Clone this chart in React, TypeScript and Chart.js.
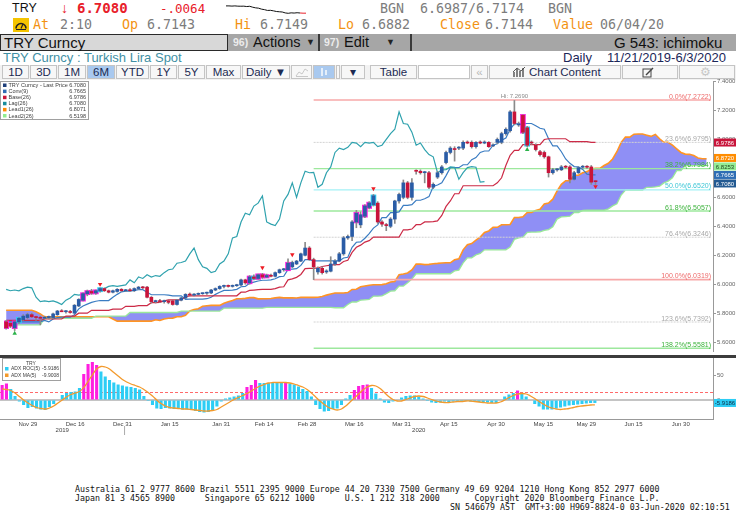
import React, { useEffect, useRef } from "react";
import { Chart, registerables } from "chart.js";

Chart.register(...registerables);

const MONO = '"DejaVu Sans Mono", "Liberation Mono", monospace';
const SANS = '"Liberation Sans", Arial, sans-serif';

// ================= DATA =================
const firstDay = "2019-11-21";
const dayCount = 166;
const dateTicks = ["Nov 29", "Dec 16", "Dec 31", "Jan 15", "Jan 31", "Feb 14", "Feb 28", "Mar 16", "Mar 31", "Apr 15", "Apr 30", "May 15", "May 29", "Jun 15", "Jun 30"];

const opens = [
  5.74, 5.73, 5.70, 5.74, 5.755, 5.77, 5.79, 5.775, 5.77, 5.765,
  5.77, 5.77, 5.79, 5.815, 5.81, 5.81, 5.80, 5.85, 5.89, 5.935,
  5.95, 5.94, 5.955, 5.97, 5.955, 5.945, 5.95, 5.965, 5.955, 5.96,
  5.955, 5.97, 5.98, 5.98, 5.91, 5.88, 5.885, 5.88, 5.885, 5.885,
  5.86, 5.89, 5.905, 5.93, 5.925, 5.93, 5.935, 5.938, 5.94, 5.96,
  5.97, 5.985, 5.99, 5.985, 5.99, 5.995, 6.03, 6.01, 6.05, 6.04,
  6.065, 6.05, 6.06, 6.055, 6.08, 6.10, 6.10, 6.12, 6.14, 6.16,
  6.20, 6.25, 6.17, 6.085, 6.11, 6.085, 6.09, 6.14, 6.16, 6.21,
  6.32, 6.33, 6.43, 6.41, 6.47, 6.53, 6.55, 6.56, 6.43, 6.41,
  6.40, 6.45, 6.575, 6.60, 6.70, 6.60, 6.785, 6.78, 6.77, 6.77,
  6.67, 6.74, 6.77, 6.84, 6.91, 6.935, 6.94, 6.94, 6.98, 6.98,
  6.95, 6.98, 6.975, 6.98, 6.955, 6.98, 6.98, 7.04, 7.06, 7.19,
  7.10, 7.166, 7.08, 6.98, 6.96, 6.915, 6.91, 6.88, 6.77, 6.79,
  6.79, 6.81, 6.81, 6.725, 6.77, 6.808, 6.812, 6.81, 6.7143,
];
const highs = [
  5.75, 5.735, 5.745, 5.77, 5.79, 5.80, 5.80, 5.78, 5.78, 5.78,
  5.78, 5.80, 5.82, 5.825, 5.82, 5.82, 5.86, 5.90, 5.94, 5.96,
  5.965, 5.96, 5.975, 5.975, 5.96, 5.96, 5.97, 5.97, 5.965, 5.97,
  5.975, 5.985, 5.985, 5.985, 5.915, 5.89, 5.895, 5.89, 5.89, 5.89,
  5.895, 5.91, 5.935, 5.94, 5.935, 5.94, 5.94, 5.945, 5.965, 5.975,
  5.99, 5.995, 5.995, 5.995, 6.00, 6.035, 6.035, 6.06, 6.065, 6.07,
  6.075, 6.07, 6.07, 6.085, 6.105, 6.11, 6.175, 6.16, 6.165, 6.215,
  6.29, 6.26, 6.18, 6.12, 6.12, 6.10, 6.19, 6.17, 6.22, 6.33,
  6.34, 6.44, 6.51, 6.50, 6.55, 6.57, 6.62, 6.57, 6.44, 6.42,
  6.46, 6.58, 6.63, 6.72, 6.71, 6.73, 6.79, 6.79, 6.78, 6.78,
  6.70, 6.78, 6.82, 6.92, 6.95, 6.95, 6.95, 6.99, 6.99, 6.99,
  6.985, 6.99, 6.99, 6.985, 6.97, 7.01, 7.05, 7.08, 7.20, 7.269,
  7.12, 7.17, 7.09, 6.99, 6.97, 6.925, 6.92, 6.885, 6.80, 6.80,
  6.82, 6.82, 6.82, 6.78, 6.81, 6.82, 6.82, 6.82, 6.7149,
];
const lows = [
  5.69, 5.70, 5.68, 5.73, 5.75, 5.76, 5.77, 5.75, 5.72, 5.76,
  5.76, 5.765, 5.785, 5.81, 5.80, 5.80, 5.80, 5.845, 5.885, 5.92,
  5.93, 5.93, 5.945, 5.95, 5.94, 5.94, 5.945, 5.95, 5.95, 5.95,
  5.95, 5.965, 5.97, 5.905, 5.87, 5.87, 5.875, 5.87, 5.865, 5.855,
  5.855, 5.885, 5.90, 5.92, 5.92, 5.925, 5.93, 5.93, 5.935, 5.955,
  5.965, 5.975, 5.98, 5.98, 5.985, 5.99, 6.00, 6.00, 6.03, 6.035,
  6.04, 6.045, 6.05, 6.05, 6.075, 6.09, 6.10, 6.115, 6.135, 6.155,
  6.195, 6.165, 6.032, 6.07, 6.07, 6.075, 6.085, 6.13, 6.155, 6.20,
  6.31, 6.30, 6.39, 6.39, 6.46, 6.52, 6.54, 6.42, 6.40, 6.37,
  6.39, 6.42, 6.56, 6.59, 6.59, 6.58, 6.76, 6.76, 6.70, 6.66,
  6.66, 6.73, 6.76, 6.83, 6.90, 6.85, 6.93, 6.93, 6.97, 6.94,
  6.94, 6.97, 6.97, 6.945, 6.95, 6.97, 6.97, 7.03, 7.05, 7.10,
  7.09, 7.04, 6.95, 6.965, 6.92, 6.885, 6.87, 6.74, 6.76, 6.78,
  6.785, 6.80, 6.70, 6.72, 6.765, 6.80, 6.80, 6.69, 6.6882,
];
const closes = [
  5.70, 5.71, 5.74, 5.765, 5.78, 5.79, 5.775, 5.77, 5.765, 5.77,
  5.775, 5.795, 5.815, 5.81, 5.812, 5.805, 5.855, 5.895, 5.935, 5.95,
  5.94, 5.955, 5.97, 5.955, 5.945, 5.955, 5.965, 5.955, 5.96, 5.955,
  5.97, 5.98, 5.975, 5.91, 5.88, 5.885, 5.88, 5.885, 5.875, 5.86,
  5.89, 5.905, 5.93, 5.925, 5.93, 5.935, 5.938, 5.94, 5.96, 5.97,
  5.985, 5.99, 5.985, 5.99, 5.995, 6.03, 6.01, 6.05, 6.04, 6.065,
  6.05, 6.06, 6.055, 6.08, 6.10, 6.105, 6.145, 6.15, 6.16, 6.21,
  6.25, 6.17, 6.12, 6.11, 6.08, 6.09, 6.14, 6.16, 6.21, 6.32,
  6.33, 6.43, 6.49, 6.48, 6.54, 6.56, 6.61, 6.43, 6.415, 6.405,
  6.45, 6.575, 6.62, 6.70, 6.60, 6.70, 6.78, 6.77, 6.772, 6.67,
  6.69, 6.77, 6.81, 6.91, 6.94, 6.93, 6.945, 6.98, 6.975, 6.95,
  6.98, 6.975, 6.98, 6.95, 6.96, 7.00, 7.04, 7.07, 7.19, 7.11,
  7.105, 7.05, 6.96, 6.975, 6.93, 6.895, 6.88, 6.77, 6.79, 6.792,
  6.81, 6.808, 6.725, 6.77, 6.805, 6.812, 6.808, 6.705, 6.708,
];
const magentaCandles = [0, 2, 18, 19, 20, 21, 57, 59, 60, 61, 66, 82, 84, 85, 121];
const cyanCandles = [3, 22, 58, 86, 122];

const conv9 = [
  5.74, 5.74, 5.74, 5.74, 5.74, 5.74, 5.74, 5.74, 5.74, 5.75,
  5.74, 5.76, 5.77, 5.7725, 5.7725, 5.7725, 5.79, 5.83, 5.85, 5.8625,
  5.875, 5.8825, 5.8875, 5.8875, 5.8875, 5.91, 5.93, 5.9475, 5.9525, 5.9525,
  5.9575, 5.9625, 5.9625, 5.945, 5.9275, 5.9275, 5.9275, 5.9275, 5.925, 5.92,
  5.92, 5.92, 5.895, 5.8975, 5.8975, 5.8975, 5.8975, 5.90, 5.91, 5.93,
  5.945, 5.9575, 5.9575, 5.96, 5.965, 5.9825, 5.985, 6.0075, 6.015, 6.0225,
  6.0275, 6.0275, 6.03, 6.0375, 6.0525, 6.055, 6.1025, 6.105, 6.1075, 6.13,
  6.17, 6.17, 6.161, 6.161, 6.161, 6.161, 6.161, 6.161, 6.161, 6.181,
  6.186, 6.255, 6.29, 6.2925, 6.3175, 6.35, 6.3875, 6.41, 6.46, 6.46,
  6.495, 6.495, 6.50, 6.545, 6.545, 6.55, 6.58, 6.58, 6.59, 6.605,
  6.675, 6.685, 6.70, 6.75, 6.805, 6.805, 6.805, 6.825, 6.825, 6.86,
  6.875, 6.91, 6.92, 6.92, 6.96, 6.97, 6.995, 7.01, 7.07, 7.107,
  7.107, 7.107, 7.11, 7.11, 7.0945, 7.077, 7.07, 7.0045, 6.955, 6.955,
  6.915, 6.865, 6.835, 6.8125, 6.81, 6.7925, 6.76, 6.755, 6.755,
];
const base26 = [
  5.75, 5.75, 5.75, 5.75, 5.75, 5.75, 5.75, 5.75, 5.75, 5.76,
  5.76, 5.76, 5.76, 5.76, 5.78, 5.78, 5.78, 5.80, 5.80, 5.80,
  5.82, 5.82, 5.82, 5.82, 5.82, 5.8275, 5.8275, 5.8275, 5.8475, 5.8475,
  5.8475, 5.8525, 5.8525, 5.8525, 5.8725, 5.8725, 5.875, 5.885, 5.8925, 5.8925,
  5.8925, 5.8925, 5.915, 5.92, 5.92, 5.92, 5.92, 5.92, 5.92, 5.92,
  5.92, 5.92, 5.92, 5.92, 5.92, 5.945, 5.945, 5.9575, 5.96, 5.9625,
  5.965, 5.965, 5.965, 5.97, 5.98, 5.9825, 6.03, 6.0375, 6.0475, 6.0675,
  6.1075, 6.11, 6.11, 6.1125, 6.1225, 6.1275, 6.1325, 6.135, 6.135, 6.1575,
  6.165, 6.22, 6.255, 6.27, 6.291, 6.301, 6.326, 6.326, 6.326, 6.326,
  6.326, 6.326, 6.326, 6.376, 6.376, 6.381, 6.411, 6.411, 6.43, 6.43,
  6.4325, 6.4375, 6.475, 6.5375, 6.575, 6.625, 6.625, 6.68, 6.68, 6.68,
  6.68, 6.68, 6.68, 6.68, 6.68, 6.70, 6.735, 6.82, 6.89, 6.9245,
  6.9245, 6.9645, 6.9645, 6.9645, 6.9645, 6.9645, 6.9995, 7.0045, 7.0045, 7.0045,
  7.0045, 7.0045, 6.9845, 6.9845, 6.9845, 6.9845, 6.9845, 6.9795, 6.9795,
];
const lead1 = [
  5.82, 5.82, 5.82, 5.82, 5.82, 5.82, 5.82, 5.81, 5.795, 5.775,
  5.775, 5.775, 5.775, 5.775, 5.775, 5.775, 5.775, 5.775, 5.775, 5.775,
  5.775, 5.775, 5.775, 5.775, 5.775, 5.76, 5.745, 5.745, 5.745, 5.745,
  5.745, 5.745, 5.745, 5.745, 5.745, 5.755, 5.75, 5.76, 5.765, 5.766,
  5.776, 5.776, 5.785, 5.815, 5.825, 5.831, 5.8475, 5.851, 5.854, 5.854,
  5.854, 5.869, 5.879, 5.8875, 5.90, 5.90, 5.9025, 5.9075, 5.9075, 5.899,
  5.90, 5.90, 5.901, 5.906, 5.909, 5.906, 5.906, 5.906, 5.905, 5.909,
  5.909, 5.909, 5.909, 5.91, 5.915, 5.925, 5.9325, 5.939, 5.939, 5.94,
  5.9425, 5.964, 5.965, 5.9825, 5.9875, 5.9925, 5.996, 5.996, 5.9975, 6.004,
  6.016, 6.019, 6.066, 6.071, 6.0775, 6.099, 6.139, 6.14, 6.1355, 6.137,
  6.142, 6.144, 6.147, 6.148, 6.148, 6.169, 6.1755, 6.2375, 6.2725, 6.281,
  6.304, 6.3255, 6.357, 6.368, 6.393, 6.393, 6.4105, 6.4105, 6.413, 6.4605,
  6.4605, 6.4655, 6.4955, 6.4955, 6.51, 6.5175, 6.554, 6.561, 6.5875, 6.644,
  6.69, 6.715, 6.715, 6.7525, 6.7525, 6.77, 6.7775, 6.795, 6.80, 6.80,
  6.82, 6.835, 6.865, 6.915, 6.98, 7.016, 7.016, 7.036, 7.037, 7.037,
  7.0295, 7.021, 7.035, 7.0045, 6.98, 6.98, 6.96, 6.935, 6.91, 6.8985,
  6.897, 6.8885, 6.872, 6.867, 6.867,
];
const lead2 = [
  5.72, 5.72, 5.72, 5.72, 5.72, 5.72, 5.72, 5.72, 5.72, 5.765,
  5.765, 5.765, 5.765, 5.765, 5.765, 5.765, 5.765, 5.765, 5.765, 5.765,
  5.765, 5.78, 5.78, 5.78, 5.78, 5.78, 5.78, 5.78, 5.78, 5.805,
  5.805, 5.805, 5.805, 5.805, 5.805, 5.805, 5.805, 5.805, 5.805, 5.805,
  5.805, 5.815, 5.815, 5.815, 5.815, 5.815, 5.815, 5.815, 5.815, 5.815,
  5.815, 5.835, 5.835, 5.835, 5.835, 5.835, 5.835, 5.835, 5.835, 5.835,
  5.835, 5.84, 5.84, 5.84, 5.84, 5.84, 5.84, 5.84, 5.84, 5.84,
  5.84, 5.84, 5.84, 5.84, 5.84, 5.84, 5.84, 5.8375, 5.8375, 5.8375,
  5.86, 5.8775, 5.8775, 5.89, 5.8925, 5.895, 5.9175, 5.9175, 5.92, 5.935,
  5.9525, 5.955, 5.9875, 5.9875, 6.01, 6.035, 6.0725, 6.0725, 6.0725, 6.0725,
  6.0725, 6.0725, 6.0725, 6.0725, 6.0725, 6.0925, 6.0975, 6.1475, 6.1825, 6.1825,
  6.2025, 6.2125, 6.2375, 6.2375, 6.2375, 6.2375, 6.2375, 6.2375, 6.2575, 6.31,
  6.32, 6.325, 6.3575, 6.36, 6.36, 6.3625, 6.3725, 6.3775, 6.3975, 6.45,
  6.465, 6.4675, 6.47, 6.495, 6.495, 6.51, 6.511, 6.511, 6.511, 6.511,
  6.511, 6.521, 6.541, 6.556, 6.616, 6.6505, 6.6505, 6.6505, 6.6505, 6.6505,
  6.6695, 6.6695, 6.672, 6.677, 6.6995, 6.712, 6.7345, 6.7845, 6.7845, 6.8195,
  6.8195, 6.8195, 6.8195, 6.8195, 6.8195,
];
const lagShift = 26;

const fibNames = ["0.0%", "23.6%", "38.2%", "50.0%", "61.8%", "76.4%", "100.0%", "123.6%", "138.2%"];
const fibLevels = [7.2722, 6.9795, 6.7984, 6.652, 6.5057, 6.3246, 6.0319, 5.7392, 5.5581];
const fibStart = 72;

const sellIdx = [22, 60, 67, 86, 138];
const sellPx = [6.0, 6.115, 6.205, 6.66, 6.675];
const buyIdx = [2, 122];
const buyPx = [5.661, 6.929];

const priceTicks = [5.6, 5.8, 6.0, 6.2, 6.4, 6.6, 6.8, 7.0, 7.2, 7.4];
const tagValues = [6.9786, 6.872, 6.8253, 6.7665, 6.708];
const legendNames = ["TRY Curncy - Last Price", "Conv(9)", "Base(26)", "Lag(26)", "Lead1(26)", "Lead2(26)"];
const legendValues = ["6.7080", "6.7665", "6.9786", "6.7080", "6.8071", "6.5198"];

const adxRoc = [
  30, 33, 22, 8, -3, -10, -16, -14, -17, -19,
  -20, -14, -8, 0, 10, 14, 16, 17, 24, 52,
  72, 76, 70, 57, 47, 40, 35, 31, 29, 27,
  26, 24, 21, 8, -2, -10, -17, -18, -16, -17,
  -18, -18, -19, -19, -20, -22, -24, -25, -24, -20,
  -13, -3, 3, 5, 7, 9, 14, 26, 30, 40,
  34, 34, 34, 34, 35, 35, 36, 33, 31, 27,
  22, 18, 7, -10, -18, -23, -22, -18, -17, -10,
  3, 10, 20, 28, 30, 31, 24, 13, 3, -5,
  -6, -3, 0, 5, 8, 9, 9, 7, 3, -2,
  -5, -6, -5, -3, -4, -3, -3, -2, -2, -3,
  -3, -4, -5, -5, -6, -6, 0, 7, 11, 14,
  19, 13, 7, 0, -8, -13, -19, -19, -19, -17,
  -15, -13, -11, -10, -9, -8, -7, -6, -5.9186,
];
const adxMa = [
  22, 21, 19, 14, 7, 0, -6, -11, -15, -17,
  -18, -16, -12, -6, 0, 6, 11, 14, 17, 25,
  37, 50, 62, 67, 66, 62, 55, 48, 41, 36,
  32, 29, 26, 21, 15, 8, 0, -7, -12, -15,
  -16, -17, -18, -18, -19, -20, -21, -22, -22, -21,
  -19, -14, -9, -4, 1, 5, 9, 13, 18, 23,
  28, 31, 34, 35, 35, 35, 35, 34, 32, 29,
  26, 21, 14, 6, -2, -9, -15, -18, -20, -18,
  -12, -4, 4, 12, 20, 26, 29, 28, 23, 15,
  7, 1, -2, -2, 1, 4, 7, 8, 7, 4,
  1, -2, -4, -5, -5, -4, -3, -3, -2, -2,
  -3, -4, -5, -6, -6, -6, -4, 0, 5, 9,
  12, 13, 12, 8, 3, -3, -8, -13, -16, -18,
  -19, -18, -17, -15, -13, -12, -11, -10, -9.9008,
];
const adxMagenta = [0, 1, 19, 20, 21, 22, 57, 58, 59, 66, 82, 83, 84, 85, 120];
const adxThreshold = 15;
const adxTicks = [0, 50];

const sparkline = [14, 14, 13.7, 14, 13.6, 13.5, 13.6, 13, 13.4, 12, 11, 10.5, 9, 8.2, 7, 7.2, 6.4, 5.4, 5, 4.6, 3.2, 2.6, 3.3, 3.0, 3.5, 3.1, 2.8, 2.8];

// ================= STYLE =================
const UP = "#2a5ca6";
const DOWN = "#c8143a";
const MAGENTA = "#ff1ee0";
const CYAN = "#2ccdf5";
const CLOUD = "rgba(128,128,244,0.88)";
const fibStyle = [
  { c: "#f7a8a8", t: "#ee6b6b", w: 1.6, d: [] as number[] },
  { c: "#d2d2d2", t: "#a8a8a8", w: 1, d: [2, 1] },
  { c: "#9de89d", t: "#3db33d", w: 1.3, d: [] as number[] },
  { c: "#a3f1f6", t: "#3cc6d6", w: 1.3, d: [] as number[] },
  { c: "#9de89d", t: "#3db33d", w: 1.3, d: [] as number[] },
  { c: "#d2d2d2", t: "#a8a8a8", w: 1, d: [2, 1] },
  { c: "#f7a8a8", t: "#ee6b6b", w: 1.6, d: [] as number[] },
  { c: "#d2d2d2", t: "#a8a8a8", w: 1, d: [2, 1] },
  { c: "#9de89d", t: "#3db33d", w: 1.3, d: [] as number[] },
];
const tagStyle = [
  { bg: "#c8143a", fg: "#ffffff" },
  { bg: "#ff8c00", fg: "#ffffff" },
  { bg: "#94ec94", fg: "#1f4a1f" },
  { bg: "#2e6db4", fg: "#ffffff" },
  { bg: "#235a92", fg: "#ffffff" },
];
const legendColors = ["#1f3f7a", "#2e6db4", "#c8143a", "#178c9c", "#ff8a00", "#90ee90"];

const MONTHS = ["Jan", "Feb", "Mar", "Apr", "May", "Jun", "Jul", "Aug", "Sep", "Oct", "Nov", "Dec"];
function buildDays() {
  const out: { label: string; year: number }[] = [];
  const d = new Date(firstDay + "T12:00:00Z");
  while (out.length < dayCount) {
    const wd = d.getUTCDay();
    if (wd !== 0 && wd !== 6) out.push({ label: `${MONTHS[d.getUTCMonth()]} ${d.getUTCDate()}`, year: d.getUTCFullYear() });
    d.setUTCDate(d.getUTCDate() + 1);
  }
  return out;
}

const fixRightAxis = (s: any) => {
  s.width = 23;
  s.paddingTop = 0;
  s.paddingBottom = 0;
};

// ================= MAIN CHART =================
function MainChart() {
  const ref = useRef<HTMLCanvasElement | null>(null);
  useEffect(() => {
    const days = buildDays();
    const labels = days.map((d) => d.label);
    const fit = (arr: number[]) => labels.map((_, i) => (i < arr.length ? arr[i] : null));
    const lag = labels.map((_, i) => (i + lagShift < closes.length ? closes[i + lagShift] : null));
    const isHl = (i: number) => magentaCandles.includes(i) || cyanCandles.includes(i);
    const hl = labels.map((_, i) => {
      if (i >= opens.length || !isHl(i)) return null;
      const lo = Math.min(opens[i], closes[i]);
      const hi = Math.max(opens[i], closes[i]);
      return [lo - 0.007, hi + 0.007];
    });
    const marks = (idx: number[], px: number[]) => {
      const a: (number | null)[] = labels.map(() => null);
      idx.forEach((ix, k) => (a[ix] = px[k]));
      return a;
    };
    const fibSets = fibLevels.map((v, k) => ({
      type: "line",
      data: labels.map((_, i) => (i >= fibStart ? v : null)),
      borderColor: fibStyle[k].c,
      borderWidth: fibStyle[k].w,
      borderDash: fibStyle[k].d,
      pointRadius: 0,
      order: 15,
    }));
    const lineBase = { type: "line", pointRadius: 0, tension: 0, spanGaps: false };

    const overlay = {
      id: "mainOverlay",
      afterDatasetsDraw(chart: any) {
        const { ctx, chartArea, scales } = chart;
        const ys = scales.y;
        const xs = scales.x;
        ctx.save();
        ctx.font = `7px ${SANS}`;
        ctx.textAlign = "right";
        ctx.textBaseline = "alphabetic";
        fibLevels.forEach((v, k) => {
          ctx.fillStyle = fibStyle[k].t;
          ctx.fillText(`${fibNames[k]}(${v.toFixed(4)})`, chartArea.right - 2, ys.getPixelForValue(v) - 1.5);
        });
        let hiI = 0;
        highs.forEach((h, i) => {
          if (h > highs[hiI]) hiI = i;
        });
        ctx.font = `6px ${SANS}`;
        ctx.textAlign = "center";
        ctx.fillStyle = "#8a8a8a";
        ctx.fillText(`Hi: ${highs[hiI].toFixed(4)}`, xs.getPixelForValue(hiI), ys.getPixelForValue(highs[hiI]) - 2);
        ctx.restore();
      },
      afterDraw(chart: any) {
        const { ctx, chartArea, scales } = chart;
        const ys = scales.y;
        ctx.save();
        ctx.font = `6px ${SANS}`;
        ctx.textAlign = "center";
        ctx.textBaseline = "middle";
        let prev = -100;
        tagValues.forEach((v, k) => {
          let y = ys.getPixelForValue(v);
          if (y - prev < 8.5) y = prev + 8.5;
          prev = y;
          ctx.fillStyle = tagStyle[k].bg;
          ctx.fillRect(chartArea.right + 1, y - 4, 22, 8);
          ctx.fillStyle = tagStyle[k].fg;
          ctx.fillText(v.toFixed(4), chartArea.right + 12, y + 0.5);
        });
        ctx.fillStyle = "#ffffff";
        ctx.fillRect(0.5, 4.5, 88, 38);
        ctx.strokeStyle = "#a0a0a0";
        ctx.lineWidth = 1;
        ctx.strokeRect(0.5, 4.5, 88, 38);
        ctx.font = `5.5px ${SANS}`;
        ctx.textBaseline = "middle";
        legendNames.forEach((nm, k) => {
          const y = 8.5 + k * 6.1;
          ctx.fillStyle = legendColors[k];
          ctx.fillRect(3, y - 2, 3.5, 3.5);
          ctx.fillStyle = "#404040";
          ctx.textAlign = "left";
          ctx.fillText(nm, 8.5, y);
          ctx.textAlign = "right";
          ctx.fillText(legendValues[k], 86, y);
        });
        ctx.restore();
      },
    };

    const chart = new Chart(ref.current as HTMLCanvasElement, {
      type: "bar",
      data: {
        labels,
        datasets: [
          { ...lineBase, data: fit(lead1), borderColor: "#ff9424", borderWidth: 1.6, fill: { target: 1, above: CLOUD, below: CLOUD }, order: 21 },
          { ...lineBase, data: fit(lead2), borderColor: "#9ae89a", borderWidth: 1.3, order: 20 },
          ...fibSets,
          { ...lineBase, data: lag, borderColor: "#2fa2ae", borderWidth: 1.2, order: 10 },
          { ...lineBase, data: fit(base26), borderColor: "#cc2a46", borderWidth: 1.2, order: 10 },
          { ...lineBase, data: fit(conv9), borderColor: "#3a7cc2", borderWidth: 1.2, order: 10 },
          {
            type: "bar",
            data: hl,
            backgroundColor: labels.map((_, i) => (cyanCandles.includes(i) ? CYAN : MAGENTA)),
            barThickness: 5,
            grouped: false,
            order: 6,
          },
          {
            type: "bar",
            data: highs.map((h, i) => [lows[i], h]),
            backgroundColor: "#8a8a8a",
            barThickness: 1,
            grouped: false,
            order: 5,
          },
          {
            type: "bar",
            data: opens.map((o, i) => [o, closes[i]]),
            backgroundColor: opens.map((o, i) => (closes[i] >= o ? UP : DOWN)),
            barThickness: 3,
            minBarLength: 1,
            grouped: false,
            order: 4,
          },
          { type: "line", data: marks(sellIdx, sellPx), showLine: false, pointStyle: "triangle", pointRotation: 180, pointRadius: 2.6, pointBackgroundColor: "#ee1c24", pointBorderColor: "#ee1c24", borderWidth: 0, order: 1 },
          { type: "line", data: marks(buyIdx, buyPx), showLine: false, pointStyle: "triangle", pointRadius: 2.6, pointBackgroundColor: "#2bb34a", pointBorderColor: "#2bb34a", borderWidth: 0, order: 1 },
        ] as any,
      },
      options: {
        responsive: false,
        animation: false,
        events: [],
        layout: { padding: { top: 3, left: 0, right: 0, bottom: 0 } },
        plugins: { legend: { display: false }, tooltip: { enabled: false } },
        scales: {
          x: { type: "category", display: false, offset: true, grid: { display: false } },
          y: {
            position: "right",
            min: 5.539,
            max: 7.4034,
            afterBuildTicks: (s: any) => {
              s.ticks = priceTicks.map((v) => ({ value: v }));
            },
            afterFit: fixRightAxis,
            ticks: { font: { size: 6, family: SANS }, color: "#666", padding: 1, callback: (v: any) => Number(v).toFixed(4) },
            grid: { display: true, drawOnChartArea: false, drawTicks: true, tickLength: 3, color: "#999" },
            border: { display: true, color: "#999" },
          },
        },
      } as any,
      plugins: [overlay],
    });
    return () => chart.destroy();
  }, []);
  return <canvas ref={ref} width={736} height={278} style={{ position: "absolute", left: 0, top: 77, width: 736, height: 278 }} />;
}

// ================= ADX PANEL =================
function AdxChart() {
  const ref = useRef<HTMLCanvasElement | null>(null);
  useEffect(() => {
    const days = buildDays();
    const labels = days.map((d) => d.label);
    const fit = (arr: number[]) => labels.map((_, i) => (i < arr.length ? arr[i] : null));
    const overlay = {
      id: "adxOverlay",
      beforeDatasetsDraw(chart: any) {
        const { ctx, chartArea, scales } = chart;
        const ys = scales.y;
        ctx.save();
        ctx.strokeStyle = "#c4c4c4";
        ctx.lineWidth = 2;
        ctx.beginPath();
        ctx.moveTo(chartArea.left, ys.getPixelForValue(0));
        ctx.lineTo(chartArea.right, ys.getPixelForValue(0));
        ctx.stroke();
        ctx.strokeStyle = "#ff6a6a";
        ctx.lineWidth = 1;
        ctx.setLineDash([3, 2]);
        ctx.beginPath();
        ctx.moveTo(chartArea.left, ys.getPixelForValue(adxThreshold));
        ctx.lineTo(chartArea.right, ys.getPixelForValue(adxThreshold));
        ctx.stroke();
        ctx.restore();
      },
      afterDraw(chart: any) {
        const { ctx, chartArea, scales } = chart;
        const ys = scales.y;
        const xs = scales.x;
        ctx.save();
        const last = adxRoc[adxRoc.length - 1];
        const y = ys.getPixelForValue(last);
        ctx.fillStyle = CYAN;
        ctx.fillRect(chartArea.right + 1, y - 4, 22, 8);
        ctx.fillStyle = "#0b2a40";
        ctx.font = `6px ${SANS}`;
        ctx.textAlign = "center";
        ctx.textBaseline = "middle";
        ctx.fillText(last.toFixed(4), chartArea.right + 12, y + 0.5);
        ctx.fillStyle = "#fff";
        ctx.fillRect(2.5, 0.5, 58, 22);
        ctx.strokeStyle = "#a0a0a0";
        ctx.strokeRect(2.5, 0.5, 58, 22);
        ctx.font = `5px ${SANS}`;
        ctx.fillStyle = "#404040";
        ctx.fillText("TRY", 31, 5.5);
        const rows = [
          { c: CYAN, n: "ADX ROC(5)", v: adxRoc[adxRoc.length - 1] },
          { c: "#f39a2c", n: "ADX MA(5)", v: adxMa[adxMa.length - 1] },
        ];
        rows.forEach((r, k) => {
          const yy = 11 + k * 6.5;
          ctx.fillStyle = r.c;
          ctx.fillRect(5, yy - 2, 3.5, 3.5);
          ctx.fillStyle = "#404040";
          ctx.textAlign = "left";
          ctx.fillText(r.n, 11, yy);
          ctx.textAlign = "right";
          ctx.fillText(r.v.toFixed(4), 59, yy);
        });
        ctx.font = `6px ${SANS}`;
        ctx.textAlign = "center";
        ctx.fillStyle = "#444";
        const years = Array.from(new Set(days.map((d) => d.year)));
        years.forEach((yr) => {
          const idx = days.map((d, i) => (d.year === yr ? i : -1)).filter((i) => i >= 0);
          const a = idx[0];
          const b = idx[idx.length - 1];
          const xm = (xs.getPixelForValue(a) + xs.getPixelForValue(b)) / 2;
          ctx.fillText(String(yr), xm, chartArea.bottom + 11.5);
          if (a > 0) {
            const xb = (xs.getPixelForValue(a - 1) + xs.getPixelForValue(a)) / 2;
            ctx.strokeStyle = "#aaa";
            ctx.lineWidth = 1;
            ctx.beginPath();
            ctx.moveTo(xb, chartArea.bottom + 7);
            ctx.lineTo(xb, chartArea.bottom + 16);
            ctx.stroke();
          }
        });
        ctx.restore();
      },
    };
    const chart = new Chart(ref.current as HTMLCanvasElement, {
      type: "bar",
      data: {
        labels,
        datasets: [
          {
            type: "line",
            data: fit(adxMa),
            borderColor: "#f39a2c",
            borderWidth: 1.3,
            pointRadius: 0,
            tension: 0.4,
            order: 1,
          },
          {
            type: "bar",
            data: fit(adxRoc),
            backgroundColor: labels.map((_, i) => (adxMagenta.includes(i) ? MAGENTA : CYAN)),
            barPercentage: 0.72,
            categoryPercentage: 1,
            order: 2,
          },
        ] as any,
      },
      options: {
        responsive: false,
        animation: false,
        events: [],
        layout: { padding: 0 },
        plugins: { legend: { display: false }, tooltip: { enabled: false } },
        scales: {
          x: {
            type: "category",
            offset: true,
            grid: { display: false, drawTicks: false, tickLength: 0 },
            border: { display: true, color: "#999" },
            afterFit: (s: any) => {
              s.height = 21;
              s.paddingLeft = 0;
              s.paddingRight = 0;
            },
            ticks: {
              autoSkip: false,
              maxRotation: 0,
              minRotation: 0,
              padding: 2,
              font: { size: 6, family: SANS },
              color: "#444",
              callback: (_v: any, i: number) => (dateTicks.includes(labels[i]) ? labels[i] : ""),
            },
          },
          y: {
            position: "right",
            min: -38,
            max: 84,
            afterBuildTicks: (s: any) => {
              s.ticks = adxTicks.map((v) => ({ value: v }));
            },
            afterFit: fixRightAxis,
            ticks: { font: { size: 6, family: SANS }, color: "#666", padding: 1 },
            grid: { display: true, drawOnChartArea: false, drawTicks: true, tickLength: 3, color: "#999" },
            border: { display: true, color: "#999" },
          },
        },
      } as any,
      plugins: [overlay],
    });
    return () => chart.destroy();
  }, []);
  return <canvas ref={ref} width={736} height={82} style={{ position: "absolute", left: 0, top: 358, width: 736, height: 82 }} />;
}

// ================= SPARKLINE =================
function Sparkline() {
  const ref = useRef<HTMLCanvasElement | null>(null);
  useEffect(() => {
    const n = sparkline.length;
    const chart = new Chart(ref.current as HTMLCanvasElement, {
      type: "line",
      data: {
        labels: sparkline.map((_, i) => String(i)),
        datasets: [
          {
            data: sparkline,
            borderWidth: 1,
            pointRadius: 0,
            segment: { borderColor: (c: any) => (c.p1DataIndex >= n - 2 ? "#e8202a" : "#111") },
          },
        ],
      },
      options: {
        responsive: false,
        animation: false,
        events: [],
        layout: { padding: 1 },
        plugins: { legend: { display: false }, tooltip: { enabled: false } },
        scales: { x: { display: false }, y: { display: false } },
      } as any,
    });
    return () => chart.destroy();
  }, []);
  return <canvas ref={ref} width={82} height={15} style={{ position: "absolute", left: 225, top: 1, width: 82, height: 15 }} />;
}

// ================= HEADER PIECES =================
const T = (p: any) => (
  <div
    style={{
      position: "absolute",
      left: p.x,
      top: p.y,
      height: p.h,
      lineHeight: `${p.h}px`,
      fontSize: p.size,
      color: p.color,
      fontFamily: p.font || MONO,
      fontWeight: p.weight || "normal",
      whiteSpace: "pre",
      ...(p.style || {}),
    }}
  >
    {p.children}
  </div>
);

const toolButtons = [
  { x: 2, w: 27, t: "1D" },
  { x: 30, w: 27, t: "3D" },
  { x: 58, w: 28, t: "1M" },
  { x: 87, w: 28, t: "6M", on: true },
  { x: 116, w: 33, t: "YTD" },
  { x: 150, w: 27, t: "1Y" },
  { x: 178, w: 27, t: "5Y" },
  { x: 206, w: 35, t: "Max" },
  { x: 242, w: 48, t: "Daily \u25BC" },
  { x: 291, w: 21, t: "" },
  { x: 313, w: 22, t: "", on: true },
  { x: 336, w: 4, t: "" },
  { x: 341, w: 24, t: "\u25BE" },
  { x: 370, w: 47, t: "Table" },
  { x: 418, w: 52, t: "", white: true },
  { x: 471, w: 17, t: "\u00AB", dim: true },
  { x: 489, w: 132, t: "" },
  { x: 622, w: 56, t: "" },
  { x: 679, w: 56, t: "" },
];

function Toolbar() {
  return (
    <div style={{ position: "absolute", left: 0, top: 65, width: 736, height: 15, background: "#f2f2f2" }}>
      {toolButtons.map((b, k) => (
        <div
          key={k}
          style={{
            position: "absolute",
            left: b.x,
            top: 0,
            width: b.w,
            height: 14,
            boxSizing: "border-box",
            border: "1px solid #c4c4c4",
            background: b.on ? "#a9c9ef" : b.white ? "#ffffff" : "#f7f7f7",
            color: b.dim ? "#b8b8b8" : "#1b2a52",
            fontFamily: SANS,
            fontSize: 11.5,
            lineHeight: "13px",
            textAlign: "center",
            whiteSpace: "pre",
          }}
        >
          {b.t}
        </div>
      ))}
      <svg style={{ position: "absolute", left: 295, top: 2 }} width="14" height="10">
        <polyline points="1,9 4,5 7,7 10,2 13,4" fill="none" stroke="#c8c8c8" strokeWidth="1" />
        <line x1="1" y1="9.5" x2="13" y2="9.5" stroke="#c8c8c8" />
      </svg>
      <svg style={{ position: "absolute", left: 319, top: 2 }} width="10" height="10">
        <line x1="3" y1="1" x2="3" y2="9" stroke="#ffffff" strokeWidth="1.4" />
        <line x1="7" y1="3" x2="7" y2="8" stroke="#ffffff" strokeWidth="1.4" />
      </svg>
      <svg style={{ position: "absolute", left: 512, top: 1 }} width="15" height="12">
        <path d="M2 11 L2 6 M5 11 L5 3 M8 11 L8 5 M11 11 L11 2" stroke="#333" strokeWidth="1.2" />
        <path d="M1 6 L5 2 L9 5 L13 1" stroke="#333" fill="none" strokeWidth="0.8" />
      </svg>
      <T x={529} y={0} h={14} size={11.5} color="#1b2a52" font={SANS}>Chart Content</T>
      <svg style={{ position: "absolute", left: 642, top: 2 }} width="12" height="11">
        <rect x="1" y="2" width="8" height="8" fill="none" stroke="#444" strokeWidth="1" />
        <path d="M4 8 L11 1" stroke="#444" strokeWidth="1.4" />
      </svg>
      <T x={700} y={0} h={14} size={12} color="#c8c8c8" font='"DejaVu Sans", sans-serif'>{"\u2699"}</T>
    </div>
  );
}

function Header() {
  return (
    <>
      <T x={12} y={0} h={17} size={12.5} color="#111" font={SANS}>TRY</T>
      <T x={61} y={0} h={17} size={14} color="#e8202a" font={SANS}>{"\u2193"}</T>
      <T x={77} y={0} h={17} size={14} color="#e8202a" weight="bold">6.7080</T>
      <T x={160} y={0} h={17} size={12.5} color="#e8202a">-.0064</T>
      <Sparkline />
      <T x={380} y={0} h={17} size={13.3} color="#7c7c7c">BGN</T>
      <T x={420} y={0} h={17} size={13.3} color="#7c7c7c">6.6987/6.7174</T>
      <T x={548} y={0} h={17} size={13.3} color="#7c7c7c">BGN</T>
      <svg style={{ position: "absolute", left: 13, top: 18 }} width="16" height="14">
        <rect x="0" y="0" width="16" height="14" fill="#f4c400" />
        <path d="M3 10.5 A5 5 0 0 1 13 10.5" fill="none" stroke="#222" strokeWidth="1.6" />
        <line x1="8" y1="10.5" x2="10" y2="6" stroke="#222" strokeWidth="1.2" />
        <line x1="3" y1="11.5" x2="13" y2="11.5" stroke="#222" strokeWidth="1" />
      </svg>
      <T x={33} y={17} h={16} size={13.3} color="#f39212">At</T>
      <T x={60} y={17} h={16} size={13.3} color="#7c7c7c">2:10</T>
      <T x={122} y={17} h={16} size={13.3} color="#f39212">Op</T>
      <T x={147} y={17} h={16} size={13.3} color="#7c7c7c">6.7143</T>
      <T x={235} y={17} h={16} size={13.3} color="#f39212">Hi</T>
      <T x={260} y={17} h={16} size={13.3} color="#7c7c7c">6.7149</T>
      <T x={338} y={17} h={16} size={13.3} color="#f39212">Lo</T>
      <T x={362} y={17} h={16} size={13.3} color="#7c7c7c">6.6882</T>
      <T x={440} y={17} h={16} size={13.3} color="#f39212">Close</T>
      <T x={485} y={17} h={16} size={13.3} color="#7c7c7c">6.7144</T>
      <T x={553} y={17} h={16} size={13.3} color="#f39212">Value</T>
      <T x={600} y={17} h={16} size={13.3} color="#7c7c7c">06/04/20</T>
      <div style={{ position: "absolute", left: 0, top: 34, width: 736, height: 17, background: "#a6a6a6" }} />
      <div style={{ position: "absolute", left: 0, top: 34, width: 228, height: 17, boxSizing: "border-box", border: "1px solid #2a2a2a", background: "#d8d8d8" }} />
      <T x={4} y={34} h={17} size={15} color="#111" font={SANS}>TRY Curncy</T>
      <T x={233} y={34} h={17} size={10.5} color="#ececec" font={SANS} weight="bold">96)</T>
      <T x={253} y={34} h={17} size={14.5} color="#111" font={SANS}>Actions</T>
      <T x={306} y={34} h={17} size={9} color="#222" font={SANS}>{"\u25BC"}</T>
      <div style={{ position: "absolute", left: 318, top: 34, width: 2, height: 17, background: "#3a3a3a" }} />
      <T x={324} y={34} h={17} size={10.5} color="#ececec" font={SANS} weight="bold">97)</T>
      <T x={344} y={34} h={17} size={14.5} color="#111" font={SANS}>Edit</T>
      <T x={386} y={34} h={17} size={9} color="#222" font={SANS}>{"\u25BC"}</T>
      <div style={{ position: "absolute", left: 410, top: 34, width: 2, height: 17, background: "#3a3a3a" }} />
      <T x={614} y={34} h={17} size={15} color="#111" font={SANS}>G 543: ichimoku</T>
      <T x={3} y={51} h={14} size={13} color="#3f8fa4" font={SANS}>TRY Curncy : Turkish Lira Spot</T>
      <T x={563} y={51} h={14} size={13} color="#1c2758" font={SANS}>Daily</T>
      <T x={607} y={51} h={14} size={13} color="#1c2758" font={SANS}>11/21/2019-6/3/2020</T>
      <Toolbar />
    </>
  );
}

const footer1 = "Australia 61 2 9777 8600 Brazil 5511 2395 9000 Europe 44 20 7330 7500 Germany 49 69 9204 1210 Hong Kong 852 2977 6000";
const footer2 = "Japan 81 3 4565 8900      Singapore 65 6212 1000      U.S. 1 212 318 2000       Copyright 2020 Bloomberg Finance L.P.";
const footer3 = "SN 546679 AST  GMT+3:00 H969-8824-0 03-Jun-2020 02:10:51";

export default function App() {
  useEffect(() => {
    document.body.style.margin = "0";
  }, []);
  return (
    <div style={{ position: "absolute", left: 0, top: 0, width: 736, height: 529, background: "#ffffff", overflow: "hidden" }}>
      <Header />
      <MainChart />
      <div style={{ position: "absolute", left: 0, top: 355, width: 736, height: 3, background: "#3c3c3c" }} />
      <AdxChart />
      <T x={75} y={485} h={9} size={8.3} color="#111">{footer1}</T>
      <T x={75} y={494} h={9} size={8.3} color="#111">{footer2}</T>
      <T x={450} y={503} h={9} size={8.3} color="#111">{footer3}</T>
    </div>
  );
}
